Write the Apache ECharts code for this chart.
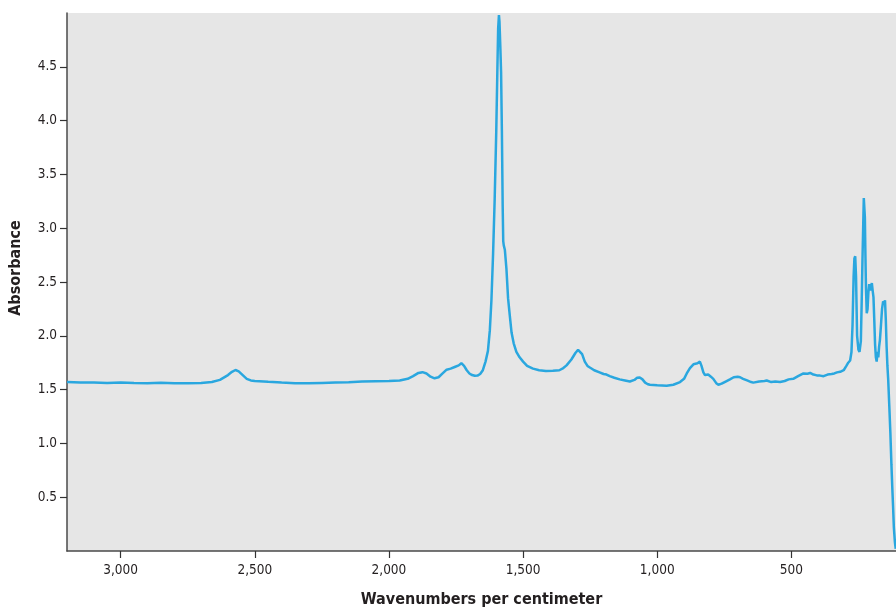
<!DOCTYPE html>
<html>
<head>
<meta charset="utf-8">
<script src="https://cdn.jsdelivr.net/npm/echarts@6/dist/echarts.min.js"></script>
<style>
html,body{margin:0;padding:0;background:#fff;}
#chart{width:896px;height:613px;}
</style>
</head>
<body>
<div id="chart"></div>
<script>
const wavenumbers = [3200,3150,3100,3050,3000,2950,2900,2850,2800,2750,2700,2660,2630,2600,2585,2572,2560,2545,2530,2515,2500,2450,2400,2350,2300,2250,2200,2150,2100,2050,2000,1960,1930,1910,1890,1875,1860,1845,1830,1815,1800,1785,1770,1755,1740,1730,1720,1710,1700,1690,1680,1670,1660,1650,1640,1631,1624,1618,1612,1606,1600,1596,1593,1590,1588,1585,1582,1579,1576,1574,1572,1568,1562,1556,1550,1543,1535,1525,1513,1500,1485,1463,1440,1415,1389,1365,1350,1338,1320,1305,1295,1288,1280,1270,1260,1251,1235,1215,1200,1189,1177,1160,1140,1120,1102,1085,1075,1065,1055,1045,1035,1027,1000,965,940,915,900,890,878,865,850,841,835,828,822,810,800,791,780,772,760,745,729,715,700,691,680,665,650,642,620,600,592,575,560,542,525,510,493,475,455,440,430,418,405,393,380,365,350,340,330,318,305,295,288,281,276,272,268,265,262,259,255,250,246,244,241,238,235,232,230,228,226,224,222,219,216,213,210,206,203,200,197,194,191,188,185,182,179,176,173,170,166,162,158,154,151,148,145,142,139,135,131,127,124,121,118,114,111];
const absorbance = [1.57,1.565,1.567,1.562,1.565,1.562,1.560,1.563,1.558,1.560,1.562,1.570,1.590,1.635,1.665,1.682,1.670,1.635,1.600,1.585,1.580,1.572,1.565,1.560,1.558,1.562,1.565,1.568,1.575,1.578,1.580,1.585,1.600,1.625,1.655,1.662,1.650,1.620,1.605,1.615,1.650,1.685,1.695,1.710,1.725,1.745,1.720,1.680,1.650,1.635,1.628,1.630,1.645,1.680,1.760,1.860,2.05,2.33,2.75,3.26,3.90,4.45,4.85,4.98,4.92,4.70,4.45,3.90,3.20,2.88,2.84,2.80,2.62,2.35,2.20,2.03,1.93,1.85,1.80,1.76,1.72,1.695,1.68,1.672,1.675,1.68,1.70,1.725,1.78,1.84,1.87,1.875,1.83,1.76,1.72,1.705,1.68,1.66,1.645,1.64,1.625,1.61,1.595,1.585,1.575,1.59,1.61,1.612,1.595,1.565,1.55,1.545,1.54,1.535,1.545,1.57,1.60,1.65,1.70,1.735,1.745,1.76,1.72,1.66,1.635,1.64,1.62,1.60,1.56,1.545,1.555,1.575,1.595,1.615,1.62,1.615,1.60,1.585,1.57,1.565,1.575,1.58,1.585,1.57,1.575,1.57,1.58,1.595,1.60,1.625,1.65,1.648,1.655,1.64,1.632,1.63,1.625,1.64,1.645,1.65,1.66,1.665,1.68,1.72,1.75,1.77,1.85,2.10,2.55,2.72,2.74,2.55,2.00,1.87,1.85,1.86,1.95,2.30,2.70,3.05,3.28,3.29,3.10,2.75,2.45,2.21,2.25,2.40,2.48,2.42,2.46,2.49,2.42,2.36,2.15,1.92,1.80,1.76,1.85,1.80,1.90,1.96,2.10,2.25,2.32,2.30,2.33,2.15,1.90,1.72,1.59,1.35,1.10,0.80,0.60,0.42,0.22,0.08,0.02];
const xTicks = [500,1000,1500,2000,2500,3000];
const yTicks = [0.5,1.0,1.5,2.0,2.5,3.0,3.5,4.0,4.5];

const FONT = "'Liberation Sans Narrow','DejaVu Sans Condensed','Arial Narrow',sans-serif";
const chart = echarts.init(document.getElementById('chart'));
const seriesData = wavenumbers.map((w, i) => [w, absorbance[i]]);

chart.setOption({
  animation: false,
  backgroundColor: '#ffffff',
  grid: {
    left: 67, right: 0, top: 13, bottom: 61.5,
    show: true, backgroundColor: '#e6e6e6', borderWidth: 0
  },
  xAxis: {
    type: 'value',
    inverse: true,
    min: 110, max: 3200,
    name: 'Wavenumbers per centimeter',
    nameLocation: 'middle',
    nameGap: 41,
    nameTextStyle: { fontFamily: FONT, fontWeight: 'bold', fontSize: 16, color: '#231f20' },
    axisLine: { show: true, lineStyle: { color: '#4a4a4a', width: 1.5 } },
    axisTick: { show: true, length: 7, customValues: xTicks, lineStyle: { color: '#333', width: 1.2 } },
    axisLabel: {
      customValues: xTicks, margin: 12,
      fontFamily: FONT, fontSize: 13.5, color: '#231f20',
      formatter: v => Number(v).toLocaleString('en-US')
    },
    splitLine: { show: false }
  },
  yAxis: {
    type: 'value',
    min: 0, max: 5,
    name: 'Absorbance',
    nameLocation: 'middle',
    nameGap: 43,
    nameTextStyle: { fontFamily: FONT, fontWeight: 'bold', fontSize: 16, color: '#231f20', padding: [0,0,0,28] },
    axisLine: { show: true, lineStyle: { color: '#4a4a4a', width: 1.5 } },
    axisTick: { show: true, length: 7, customValues: yTicks, lineStyle: { color: '#333', width: 1.2 } },
    axisLabel: {
      customValues: yTicks, margin: 10,
      fontFamily: FONT, fontSize: 13.5, color: '#231f20',
      formatter: v => Number(v).toFixed(1)
    },
    splitLine: { show: false }
  },
  series: [{
    type: 'line',
    data: seriesData,
    showSymbol: false,
    smooth: false,
    clip: true,
    lineStyle: { color: '#2aa7df', width: 2.5 },
    itemStyle: { color: '#2aa7df' }
  }]
});
</script>
</body>
</html>
